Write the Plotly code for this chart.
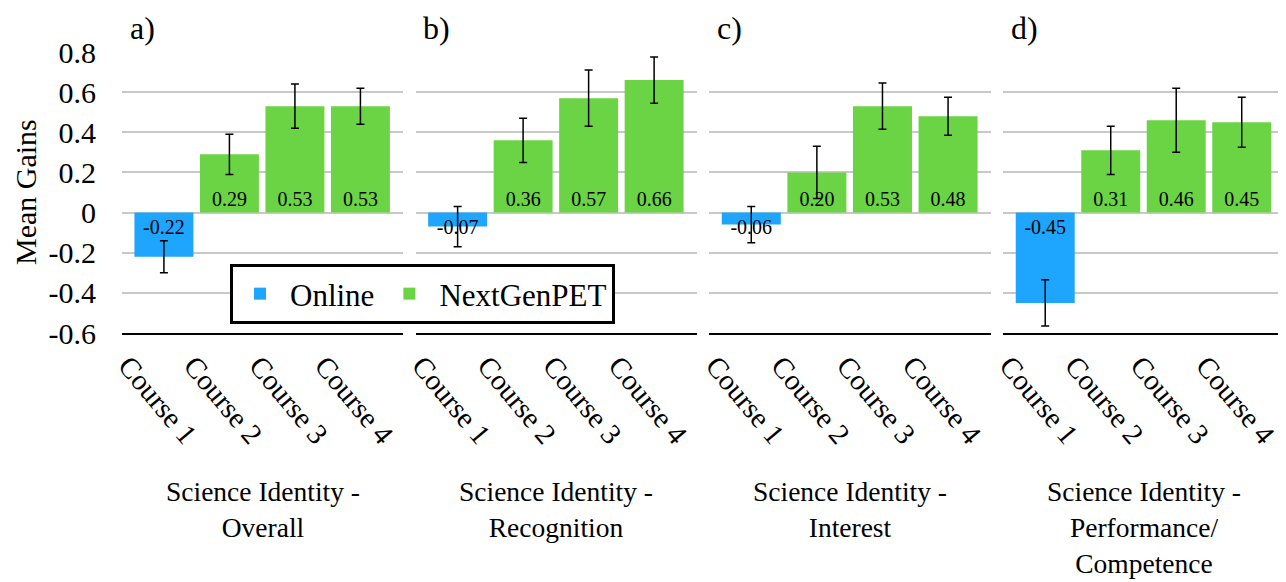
import plotly.graph_objects as go

# ---------------- data ----------------
panel_letters = ["a)", "b)", "c)", "d)"]
panel_titles = [
    "Science Identity -<br>Overall",
    "Science Identity -<br>Recognition",
    "Science Identity -<br>Interest",
    "Science Identity -<br>Performance/<br>Competence",
]
courses = ["Course 1", "Course 2", "Course 3", "Course 4"]
online_gain = [-0.22, -0.07, -0.06, -0.45]
online_err = [0.08, 0.10, 0.09, 0.115]
nextgen_gain = [
    [0.29, 0.53, 0.53],
    [0.36, 0.57, 0.66],
    [0.20, 0.53, 0.48],
    [0.31, 0.46, 0.45],
]
nextgen_err = [
    [0.10, 0.11, 0.09],
    [0.11, 0.14, 0.115],
    [0.13, 0.115, 0.095],
    [0.12, 0.16, 0.125],
]
y_tickvals = [-0.6, -0.4, -0.2, 0, 0.2, 0.4, 0.6, 0.8]
y_ticktext = ["-0.6", "-0.4", "-0.2", "0", "0.2", "0.4", "0.6", "0.8"]

# ---------------- style / layout ----------------
OFF = 8                      # page body margin of the browser
W, H = 1286 - OFF, 582 - OFF
FONT = "Liberation Serif"
BLUE = "#1EA5FE"
GREEN = "#6BD445"
GRID = "#c8c8c8"
panel_px = [(122, 403), (415.7, 696.7), (709.3, 990.7), (1003.3, 1284.3)]


def px_x(x):
    return (x - OFF) / W


def px_y(y):
    return 1 - (y - OFF) / H


y_dom = [px_y(333), px_y(52)]


def fmt(v):
    return f"{v:.2f}"


fig = go.Figure()
err_style = dict(type="data", color="black", thickness=1.5, width=4)

for i in range(4):
    xa = "x" if i == 0 else f"x{i+1}"
    ya = "y" if i == 0 else f"y{i+1}"
    common = dict(
        xaxis=xa, yaxis=ya, width=0.9,
        textposition="inside", insidetextanchor="start", constraintext="none",
        textangle=0, textfont=dict(size=20, color="black", family=FONT),
        cliponaxis=False, marker_line_width=0,
    )
    fig.add_bar(
        x=[courses[0]], y=[online_gain[i]],
        error_y=dict(array=[online_err[i]], **err_style),
        marker_color=BLUE, name="Online", legendgroup="Online",
        showlegend=(i == 0), text=[fmt(online_gain[i])], **common,
    )
    fig.add_bar(
        x=courses[1:], y=nextgen_gain[i],
        error_y=dict(array=nextgen_err[i], **err_style),
        marker_color=GREEN, name="NextGenPET", legendgroup="NextGenPET",
        showlegend=(i == 0), text=[fmt(v) for v in nextgen_gain[i]], **common,
    )

    x0, x1 = panel_px[i]
    fig.update_layout(**{
        ("xaxis" if i == 0 else f"xaxis{i+1}"): dict(
            domain=[px_x(x0), px_x(x1)], anchor=ya,
            type="category", categoryorder="array", categoryarray=courses,
            range=[-0.64, 3.65],
            showline=True, linecolor="black", linewidth=2,
            showgrid=False, zeroline=False, ticks="",
            tickangle=50, ticklabelshift=-36, ticklabelstandoff=2,
            tickfont=dict(size=29, family=FONT, color="black"),
            automargin=False, fixedrange=True,
        ),
        ("yaxis" if i == 0 else f"yaxis{i+1}"): dict(
            domain=y_dom, anchor=xa, range=[-0.6, 0.8],
            tickmode="array", tickvals=y_tickvals, ticktext=y_ticktext,
            showticklabels=(i == 0), ticklabelstandoff=25,
            tickfont=dict(size=30, family=FONT, color="black"),
            showgrid=True, gridcolor=GRID, gridwidth=1.5,
            zeroline=False, showline=False, ticks="",
            automargin=False, fixedrange=True,
        ),
    })
    fig.add_annotation(
        text=panel_letters[i], xref=f"{xa} domain", yref="paper",
        x=0.02, y=px_y(28), xanchor="left", yanchor="middle",
        showarrow=False, font=dict(size=32, family=FONT, color="black"),
    )
    fig.add_annotation(
        text=panel_titles[i], xref=f"{xa} domain", yref="paper",
        x=0.5, y=px_y(474), xanchor="center", yanchor="top",
        showarrow=False, font=dict(size=27.5, family=FONT, color="black"),
    )

fig.add_annotation(
    text="Mean Gains", xref="paper", yref="paper",
    x=px_x(25), y=px_y(192), textangle=-90,
    xanchor="center", yanchor="middle", showarrow=False,
    font=dict(size=30, family=FONT, color="black"),
)

fig.update_layout(
    width=W, height=H,
    margin=dict(l=0, r=0, t=0, b=0),
    paper_bgcolor="white", plot_bgcolor="white",
    barmode="overlay",
    font=dict(family=FONT, color="black"),
    legend=dict(
        orientation="h", x=px_x(230), y=px_y(264),
        xanchor="left", yanchor="top",
        bordercolor="black", borderwidth=3, bgcolor="white",
        font=dict(size=31, family=FONT, color="black"),
        itemwidth=50,
    ),
)

fig.write_html("out.html")
